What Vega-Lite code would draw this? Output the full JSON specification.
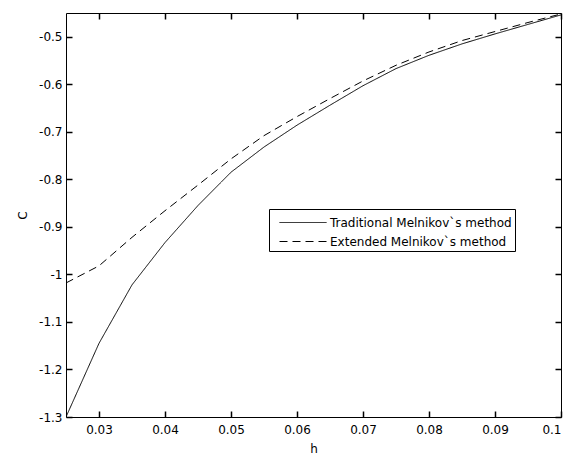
{
  "$schema": "https://vega.github.io/schema/vega-lite/v6.json",
  "width": 495,
  "height": 404,
  "autosize": {"type": "none"},
  "padding": {"left": 66, "top": 13, "right": 13, "bottom": 38},
  "background": "white",
  "config": {
    "font": "DejaVu Sans",
    "view": {"stroke": "black", "strokeWidth": 1},
    "axis": {
      "domain": false,
      "grid": false,
      "labelFont": "DejaVu Sans",
      "labelFontSize": 12,
      "labelColor": "black",
      "titleFont": "DejaVu Sans",
      "titleFontSize": 12,
      "titleFontWeight": "normal",
      "titleColor": "black"
    }
  },
  "data": {
    "values": [
      {"h": 0.025, "C": -1.300, "method": "Traditional Melnikov`s method"},
      {"h": 0.030, "C": -1.145, "method": "Traditional Melnikov`s method"},
      {"h": 0.035, "C": -1.022, "method": "Traditional Melnikov`s method"},
      {"h": 0.040, "C": -0.933, "method": "Traditional Melnikov`s method"},
      {"h": 0.045, "C": -0.855, "method": "Traditional Melnikov`s method"},
      {"h": 0.050, "C": -0.785, "method": "Traditional Melnikov`s method"},
      {"h": 0.055, "C": -0.732, "method": "Traditional Melnikov`s method"},
      {"h": 0.060, "C": -0.686, "method": "Traditional Melnikov`s method"},
      {"h": 0.065, "C": -0.644, "method": "Traditional Melnikov`s method"},
      {"h": 0.070, "C": -0.603, "method": "Traditional Melnikov`s method"},
      {"h": 0.075, "C": -0.567, "method": "Traditional Melnikov`s method"},
      {"h": 0.080, "C": -0.539, "method": "Traditional Melnikov`s method"},
      {"h": 0.085, "C": -0.515, "method": "Traditional Melnikov`s method"},
      {"h": 0.090, "C": -0.494, "method": "Traditional Melnikov`s method"},
      {"h": 0.095, "C": -0.474, "method": "Traditional Melnikov`s method"},
      {"h": 0.100, "C": -0.454, "method": "Traditional Melnikov`s method"},
      {"h": 0.025, "C": -1.018, "method": "Extended Melnikov`s method"},
      {"h": 0.030, "C": -0.982, "method": "Extended Melnikov`s method"},
      {"h": 0.035, "C": -0.922, "method": "Extended Melnikov`s method"},
      {"h": 0.040, "C": -0.866, "method": "Extended Melnikov`s method"},
      {"h": 0.045, "C": -0.812, "method": "Extended Melnikov`s method"},
      {"h": 0.050, "C": -0.757, "method": "Extended Melnikov`s method"},
      {"h": 0.055, "C": -0.708, "method": "Extended Melnikov`s method"},
      {"h": 0.060, "C": -0.668, "method": "Extended Melnikov`s method"},
      {"h": 0.065, "C": -0.630, "method": "Extended Melnikov`s method"},
      {"h": 0.070, "C": -0.593, "method": "Extended Melnikov`s method"},
      {"h": 0.075, "C": -0.560, "method": "Extended Melnikov`s method"},
      {"h": 0.080, "C": -0.532, "method": "Extended Melnikov`s method"},
      {"h": 0.085, "C": -0.508, "method": "Extended Melnikov`s method"},
      {"h": 0.090, "C": -0.489, "method": "Extended Melnikov`s method"},
      {"h": 0.095, "C": -0.470, "method": "Extended Melnikov`s method"},
      {"h": 0.100, "C": -0.452, "method": "Extended Melnikov`s method"}
    ]
  },
  "layer": [
    {
      "mark": {"type": "line", "strokeWidth": 1, "color": "black", "clip": true},
      "encoding": {
        "x": {
          "field": "h", "type": "quantitative",
          "scale": {"domain": [0.025, 0.1], "nice": false, "zero": false},
          "axis": {
            "orient": "bottom",
            "values": [0.03, 0.04, 0.05, 0.06, 0.07, 0.08, 0.09, 0.1],
            "labelExpr": "'' + datum.value",
            "ticks": true,
            "tickSize": -6,
            "tickColor": "black",
            "tickWidth": 1.5,
            "labelPadding": 13,
            "title": "h",
            "titlePadding": 8
          }
        },
        "y": {
          "field": "C", "type": "quantitative",
          "scale": {"domain": [-1.3, -0.45], "nice": false, "zero": false},
          "axis": {
            "orient": "left",
            "values": [-1.3, -1.2, -1.1, -1, -0.9, -0.8, -0.7, -0.6, -0.5],
            "labelExpr": "'' + datum.value",
            "ticks": true,
            "tickSize": -6,
            "tickColor": "black",
            "tickWidth": 1.5,
            "labelPadding": 10,
            "title": "C",
            "titlePadding": 9
          }
        },
        "strokeDash": {
          "field": "method", "type": "nominal",
          "sort": ["Traditional Melnikov`s method", "Extended Melnikov`s method"],
          "scale": {
            "domain": ["Traditional Melnikov`s method", "Extended Melnikov`s method"],
            "range": [[1, 0], [8, 5]]
          },
          "legend": {
            "orient": "none",
            "legendX": 203,
            "legendY": 196,
            "title": null,
            "strokeColor": "black",
            "fillColor": "white",
            "padding": 3,
            "cornerRadius": 0,
            "symbolType": "M-0.3,0H4.4",
            "symbolSize": 400,
            "symbolStrokeWidth": 1,
            "symbolStrokeColor": "black",
            "symbolFillColor": "transparent",
            "labelFont": "DejaVu Sans",
            "labelFontSize": 12,
            "labelColor": "black",
            "labelLimit": 0,
            "labelOffset": 37,
            "rowPadding": 2
          }
        }
      }
    },
    {
      "mark": {"type": "line", "opacity": 0},
      "encoding": {
        "x": {
          "field": "h", "type": "quantitative",
          "axis": {
            "orient": "top",
            "values": [0.03, 0.04, 0.05, 0.06, 0.07, 0.08, 0.09, 0.1],
            "labels": false,
            "ticks": true,
            "tickSize": -6,
            "tickColor": "black",
            "tickWidth": 1.5,
            "title": null
          }
        },
        "y": {
          "field": "C", "type": "quantitative",
          "axis": {
            "orient": "right",
            "values": [-1.3, -1.2, -1.1, -1, -0.9, -0.8, -0.7, -0.6, -0.5],
            "labels": false,
            "ticks": true,
            "tickSize": -6,
            "tickColor": "black",
            "tickWidth": 1.5,
            "title": null
          }
        },
        "detail": {"field": "method", "type": "nominal"}
      }
    }
  ],
  "resolve": {"axis": {"x": "independent", "y": "independent"}}
}
